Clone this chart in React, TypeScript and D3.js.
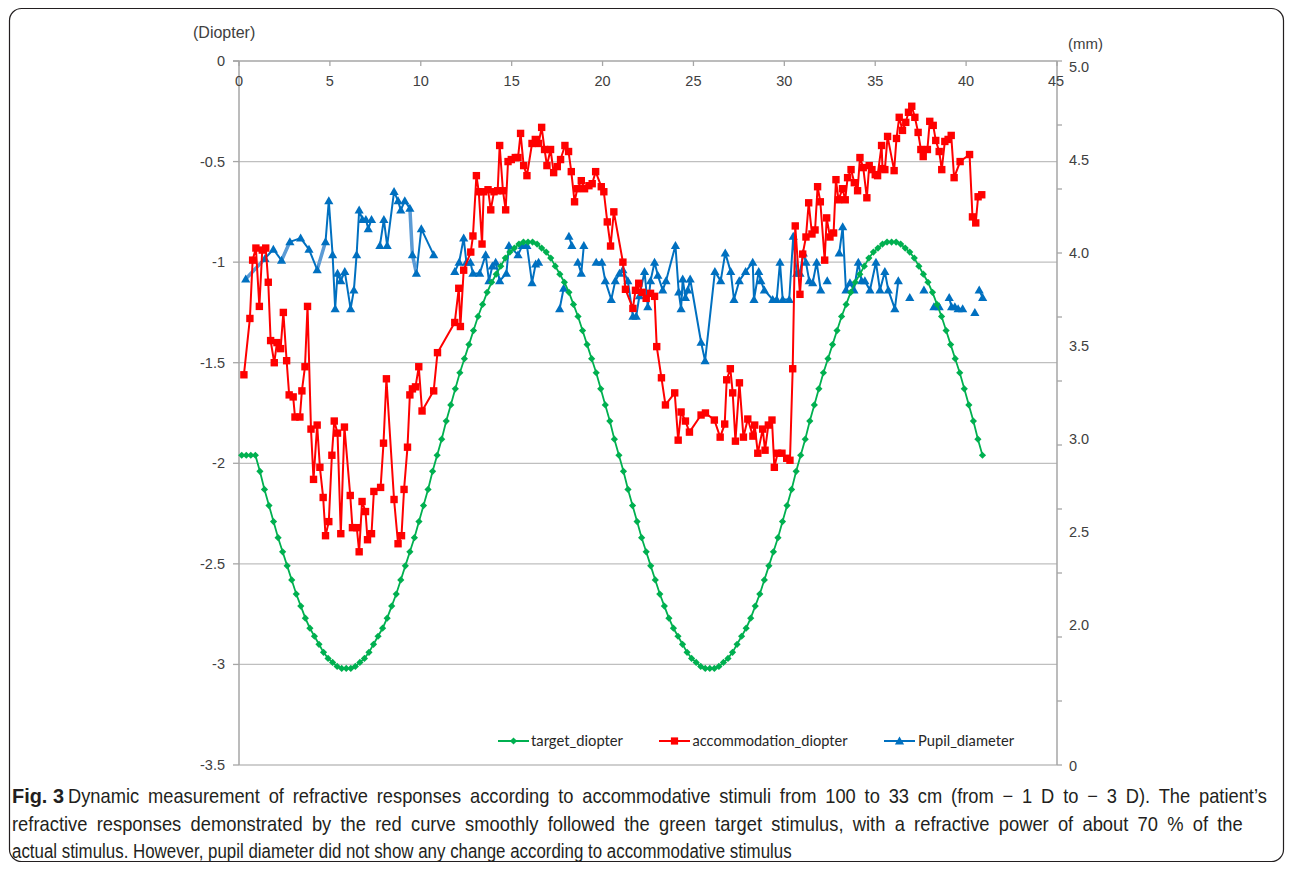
import React, { useMemo } from "react";
import * as d3 from "d3";

// ---------- data ----------
const xTicks = [0, 5, 10, 15, 20, 25, 30, 35, 40, 45];
const leftTicks = [0, -0.5, -1, -1.5, -2, -2.5, -3, -3.5];
const leftTickLabels = ["0", "-0.5", "-1", "-1.5", "-2", "-2.5", "-3", "-3.5"];
const rightLabelValues = [5.0, 4.5, 4.0, 3.5, 3.0, 2.5, 2.0];
const rightTickSteps = [0, 0.5, 1, 1.5, 2, 2.5, 3, 3.5, 4, 4.5, 5, 5.5];

// target_diopter: sampled every 0.25 s starting at 0.15 s
const targetStart = 0.15;
const targetStep = 0.25;
const targetDiopter = [
  -1.96, -1.96, -1.96,
  -1.96, -2.04, -2.13, -2.21, -2.29, -2.37, -2.44, -2.51, -2.58, -2.65, -2.71, -2.77, -2.82, -2.86, -2.90, -2.94, -2.97, -2.99, -3.01, -3.02, -3.02,
  -3.02, -3.01, -2.99, -2.97, -2.94, -2.90, -2.86, -2.82, -2.77, -2.71, -2.65, -2.58, -2.51, -2.44, -2.37, -2.29, -2.21, -2.13, -2.04, -1.96,
  -1.88, -1.79, -1.71, -1.63, -1.55, -1.48, -1.41, -1.34, -1.27, -1.21, -1.15, -1.10, -1.06, -1.02, -0.98, -0.95, -0.93, -0.91, -0.90, -0.90,
  -0.90, -0.91, -0.93, -0.95, -0.98, -1.02, -1.06, -1.10, -1.15, -1.21, -1.27, -1.34, -1.41, -1.48, -1.55, -1.63, -1.71, -1.79, -1.88, -1.96,
  -2.04, -2.13, -2.21, -2.29, -2.37, -2.44, -2.51, -2.58, -2.65, -2.71, -2.77, -2.82, -2.86, -2.90, -2.94, -2.97, -2.99, -3.01, -3.02, -3.02,
  -3.02, -3.01, -2.99, -2.97, -2.94, -2.90, -2.86, -2.82, -2.77, -2.71, -2.65, -2.58, -2.51, -2.44, -2.37, -2.29, -2.21, -2.13, -2.04, -1.96,
  -1.88, -1.79, -1.71, -1.63, -1.55, -1.48, -1.41, -1.34, -1.27, -1.21, -1.15, -1.10, -1.06, -1.02, -0.98, -0.95, -0.93, -0.91, -0.90, -0.90,
  -0.90, -0.91, -0.93, -0.95, -0.98, -1.02, -1.06, -1.10, -1.15, -1.21, -1.27, -1.34, -1.41, -1.48, -1.55, -1.63, -1.71, -1.79, -1.88, -1.96,
];

// accommodation_diopter: [time (s), diopter]
const accommodation: [number, number][] = [
  [0.27, -1.56], [0.6, -1.28], [0.75, -0.99], [0.93, -0.93], [1.12, -1.22], [1.28, -0.94], [1.47, -0.93], [1.61, -1.1],
  [1.74, -1.39], [1.94, -1.5], [2.09, -1.4], [2.29, -1.43], [2.44, -1.25], [2.62, -1.49], [2.76, -1.66], [2.98, -1.67],
  [3.08, -1.77], [3.35, -1.77], [3.46, -1.64], [3.63, -1.52], [3.77, -1.22], [3.96, -1.83], [4.1, -2.08], [4.3, -1.81],
  [4.45, -2.02], [4.63, -2.17], [4.76, -2.36], [4.94, -2.29], [5.11, -1.96], [5.24, -1.79], [5.42, -1.85], [5.6, -2.35],
  [5.8, -1.82], [6.12, -2.16], [6.24, -2.32], [6.48, -2.32], [6.61, -2.44], [6.77, -2.19], [6.96, -2.24], [7.07, -2.38],
  [7.29, -2.35], [7.42, -2.14], [7.79, -2.12], [7.95, -1.9], [8.11, -1.58], [8.53, -2.18], [8.75, -2.4], [8.94, -2.36],
  [9.08, -2.13], [9.27, -1.92], [9.4, -1.66], [9.54, -1.63], [9.71, -1.62], [9.89, -1.52], [10.07, -1.74], [10.71, -1.64],
  [10.92, -1.45], [11.87, -1.3], [12.09, -1.13], [12.18, -1.32], [12.36, -1.04], [12.75, -0.95], [12.87, -0.87], [13.06, -0.57],
  [13.19, -0.65], [13.37, -0.91], [13.46, -0.65], [13.7, -0.64], [13.85, -0.74], [14.03, -0.65], [14.23, -0.645], [14.34, -0.42],
  [14.52, -0.645], [14.67, -0.74], [14.8, -0.5], [14.98, -0.49], [15.2, -0.48], [15.35, -0.48], [15.49, -0.36], [15.66, -0.52],
  [15.84, -0.57], [16.12, -0.41], [16.3, -0.39], [16.48, -0.41], [16.65, -0.33], [16.81, -0.44], [16.94, -0.52], [17.14, -0.44],
  [17.31, -0.555], [17.51, -0.525], [17.69, -0.49], [17.93, -0.42], [18.13, -0.45], [18.28, -0.55], [18.46, -0.7], [18.61, -0.635],
  [18.83, -0.595], [19.01, -0.635], [19.25, -0.62], [19.43, -0.61], [19.62, -0.55], [19.93, -0.625], [20.07, -0.65], [20.26, -0.8],
  [20.44, -0.92], [20.62, -0.75], [21.12, -1.0], [21.26, -1.135], [21.67, -1.23], [21.81, -1.14], [21.99, -1.105], [22.18, -1.15],
  [22.4, -1.18], [22.64, -1.155], [22.86, -1.17], [22.98, -1.42], [23.24, -1.575], [23.46, -1.71], [23.97, -1.65], [24.16, -1.885],
  [24.32, -1.745], [24.56, -1.79], [24.78, -1.845], [25.42, -1.76], [25.66, -1.75], [26.15, -1.785], [26.47, -1.87], [26.72, -1.805],
  [26.83, -1.585], [27.03, -1.53], [27.16, -1.65], [27.31, -1.89], [27.53, -1.6], [27.75, -1.87], [27.99, -1.78], [28.27, -1.865],
  [28.37, -1.81], [28.54, -1.95], [28.81, -1.83], [28.94, -1.935], [29.12, -1.81], [29.32, -1.785], [29.45, -2.02], [29.63, -1.95],
  [29.87, -1.95], [30.13, -1.975], [30.31, -1.985], [30.46, -1.53], [30.6, -0.82], [30.86, -1.16], [31.01, -0.96], [31.19, -0.875],
  [31.34, -0.705], [31.52, -0.86], [31.69, -0.84], [31.83, -0.625], [31.98, -0.7], [32.22, -0.99], [32.33, -0.78], [32.51, -0.875],
  [32.71, -0.855], [32.84, -0.59], [32.98, -0.69], [33.2, -0.635], [33.35, -0.69], [33.48, -0.58], [33.67, -0.54], [33.85, -0.605],
  [34.03, -0.645], [34.16, -0.48], [34.34, -0.53], [34.54, -0.68], [34.67, -0.52], [34.82, -0.54], [35.0, -0.565], [35.13, -0.57],
  [35.35, -0.42], [35.4, -0.535], [35.53, -0.54], [35.68, -0.375], [36.04, -0.545], [36.17, -0.385], [36.32, -0.28], [36.5, -0.345],
  [36.68, -0.305], [36.83, -0.255], [37.01, -0.225], [37.18, -0.28], [37.36, -0.355], [37.51, -0.44], [37.64, -0.475], [37.87, -0.44],
  [38.0, -0.3], [38.19, -0.32], [38.33, -0.395], [38.52, -0.45], [38.66, -0.54], [38.83, -0.4], [39.01, -0.39], [39.18, -0.37],
  [39.34, -0.58], [39.67, -0.5], [40.19, -0.465], [40.35, -0.775], [40.53, -0.805], [40.66, -0.675], [40.86, -0.665],
];

// Pupil_diameter: [time (s), mm]; null = gap in the line
const pupil: ([number, number] | null)[] = [
  [0.37, 3.86], [1.43, 3.97], [1.89, 4.02], [2.34, 3.96], [2.8, 4.06], [3.39, 4.08], [3.85, 4.02], [4.3, 3.91],
  [4.76, 4.06], [4.94, 4.28], [5.15, 3.99], [5.29, 3.7], [5.42, 3.89], [5.6, 3.85], [5.82, 3.9], [6.14, 3.7],
  [6.32, 3.8], [6.47, 3.99], [6.61, 4.23], [6.79, 4.18], [6.98, 4.18], [7.11, 4.13], [7.29, 4.18],
  null,
  [7.75, 4.04], [7.97, 4.18], [8.15, 4.04], [8.53, 4.33], [8.75, 4.28], [8.9, 4.23], [9.12, 4.28], [9.4, 4.24],
  [9.54, 3.99], [9.76, 3.89], [10.03, 4.13], [10.71, 3.99],
  null,
  [11.87, 3.9], [12.11, 3.95], [12.36, 4.08], [12.51, 3.95], [12.73, 3.95], [12.87, 3.89], [13.24, 3.89], [13.57, 3.99],
  [13.75, 3.85], [13.94, 3.93], [14.12, 3.95], [14.34, 3.85], [14.71, 3.89], [14.85, 4.04], [15.35, 3.99], [15.59, 4.04],
  [15.84, 4.04], [16.12, 3.84], [16.32, 3.94], [16.48, 3.95],
  null,
  [17.64, 3.7], [17.86, 3.81],
  null,
  [18.15, 4.09], [18.31, 4.04],
  null,
  [18.64, 3.95], [18.83, 3.89], [18.97, 4.04],
  null,
  [19.65, 3.95], [19.96, 3.95], [20.15, 3.85], [20.48, 3.75], [20.7, 3.85], [20.93, 3.89], [21.12, 3.91], [21.39, 3.85],
  [21.67, 3.66], [21.85, 3.66], [22.03, 3.77], [22.31, 3.9], [22.49, 3.71], [22.64, 3.85], [22.86, 3.95], [23.04, 3.88],
  [23.31, 3.8], [23.49, 3.85], [24.01, 4.04], [24.19, 3.79], [24.32, 3.7], [24.41, 3.86], [24.56, 3.76], [24.69, 3.8],
  [24.82, 3.86], [25.42, 3.52], [25.64, 3.42], [26.18, 3.9], [26.5, 3.85], [26.75, 4.0], [27.05, 3.9], [27.23, 3.75],
  [27.52, 3.85], [27.87, 3.9], [28.26, 3.95], [28.33, 3.75], [28.59, 3.9], [28.71, 3.85], [28.9, 3.8], [29.36, 3.75],
  [29.58, 3.75], [29.76, 3.95], [29.91, 3.75], [30.27, 3.75], [30.49, 4.09], [30.68, 3.89], [30.86, 3.89], [31.04, 4.0],
  [31.19, 3.95], [31.37, 3.85], [31.56, 3.84], [31.78, 3.95], [32.0, 3.8],
  null,
  [32.36, 3.85],
  null,
  [33.02, 4.0], [33.21, 4.14], [33.39, 3.8], [33.61, 3.84], [33.83, 3.8], [34.07, 3.95], [34.25, 3.85], [34.43, 3.85],
  [34.71, 3.8], [35.04, 3.95], [35.26, 3.8], [35.53, 3.9], [35.72, 3.8], [36.08, 3.7], [36.27, 3.85],
  null,
  [36.9, 3.76],
  null,
  [37.68, 3.8],
  null,
  [38.23, 3.71], [38.52, 3.71],
  null,
  [39.07, 3.76], [39.2, 3.71], [39.38, 3.71], [39.56, 3.7], [39.81, 3.7],
  null,
  [40.48, 3.68],
  null,
  [40.72, 3.8], [40.91, 3.76],
];

// segments of the pupil line drawn in a lighter tone in the original
const pupilLight: [number, number][][] = [
  [[0.37, 3.86], [1.43, 3.97]],
  [[2.34, 3.96], [2.8, 4.06]],
  [[4.3, 3.91], [4.76, 4.06]],
  [[9.4, 4.24], [9.54, 3.99], [9.76, 3.89]],
];

const legendItems = [
  { key: "target", label: "target_diopter", color: "#00B050", x: 498, textX: 531, len: 92 },
  { key: "accom", label: "accommodation_diopter", color: "#FF0000", x: 659, textX: 692.5, len: 155 },
  { key: "pupil", label: "Pupil_diameter", color: "#0070C0", x: 884, textX: 918, len: 96 },
];

const captionBold = "Fig. 3";
const captionLine1 =
  "Dynamic measurement of refractive responses according to accommodative stimuli from 100 to 33 cm (from \u2212 1 D to \u2212 3 D). The patient\u2019s";
const captionLine2 =
  "refractive responses demonstrated by the red curve smoothly followed the green target stimulus, with a refractive power of about 70 % of the";
const captionLine3 =
  "actual stimulus. However, pupil diameter did not show any change according to accommodative stimulus";

// ---------- styles ----------
const GREEN = "#00B050";
const RED = "#FF0000";
const BLUE = "#0070C0";
const LIGHTBLUE = "#5B9BD5";
const GRID = "#BFBFBF";
const AXIS = "#A6A6A6";
const TXT = "#404040";
const AXFONT = "'Liberation Sans', Arial, sans-serif";
const CAPFAMILY = "'Liberation Sans'";
const CAPSIZE = 20;

const diamond = "M0,-3.6L3.6,0L0,3.6L-3.6,0Z";
const triangle = "M0,-4.6L4.6,3.4L-4.6,3.4Z";

function useCaptionLayout() {
  return useMemo(() => {
    let measure = (s: string, bold = false) => s.length * CAPSIZE * 0.5;
    try {
      const ctx = document.createElement("canvas").getContext("2d");
      if (ctx) {
        measure = (s: string, bold = false) => {
          ctx.font = `${bold ? "bold " : ""}${CAPSIZE}px ${CAPFAMILY}`;
          return ctx.measureText(s).width;
        };
      }
    } catch (e) {
      /* ignore */
    }
    const k3 = 780 / measure(captionLine3);
    const spaces = (s: string) => (s.match(/ /g) || []).length;
    const fit = (s: string, target: number) => {
      const kFit = target / measure(s);
      const k = (kFit + k3) / 2; // partly condensed glyphs, remainder as word spacing
      const ws = (target / k - measure(s)) / spaces(s);
      return { k, ws };
    };
    return {
      k3,
      l1: fit(captionLine1, 1200),
      l2: fit(captionLine2, 1231),
      boldK: 52 / measure(captionBold, true),
    };
  }, []);
}

export default function App() {
  const x = d3.scaleLinear().domain([0, 45]).range([239, 1057]);
  const yL = d3.scaleLinear().domain([-3.5, 0]).range([765, 61]);
  const yR = d3.scaleLinear().domain([2, 5]).range([625, 67]);
  const yRTicks = d3.scaleLinear().domain([0, 5.5]).range([765, 61]);
  const cap = useCaptionLayout();

  const targetPts: [number, number][] = targetDiopter.map((v, i) => [targetStart + i * targetStep, v]);

  const lineL = d3
    .line<[number, number]>()
    .x((d) => x(d[0]))
    .y((d) => yL(d[1]));
  const lineR = d3
    .line<[number, number] | null>()
    .defined((d) => d !== null)
    .x((d) => x((d as [number, number])[0]))
    .y((d) => yR((d as [number, number])[1]));

  const pupilPts = pupil.filter((d) => d !== null) as [number, number][];

  const x0 = x(0);
  const x1 = x(45);
  const yTop = yL(0);
  const yBot = yL(-3.5);

  return (
    <svg
      width={1292}
      height={869}
      style={{ position: "absolute", left: 0, top: 0, background: "#fff" }}
    >
      <rect x={0} y={0} width={1292} height={869} fill="#fff" />
      {/* figure frame */}
      <rect x={9.5} y={8.5} width={1274} height={853} rx={12} ry={12} fill="none" stroke="#231F20" strokeWidth={1.2} />

      {/* grid */}
      {leftTicks
        .filter((v) => v !== 0)
        .map((v) => (
          <line key={"g" + v} x1={x0} x2={x1} y1={yL(v)} y2={yL(v)} stroke={GRID} strokeWidth={1.3} />
        ))}

      {/* axes */}
      <line x1={x0} x2={x0} y1={yTop} y2={yBot} stroke={AXIS} strokeWidth={1.5} />
      <line x1={x1} x2={x1} y1={yTop} y2={yBot} stroke={AXIS} strokeWidth={1.5} />
      <line x1={x0 - 6} x2={x1} y1={yTop} y2={yTop} stroke={AXIS} strokeWidth={1.5} />
      {leftTicks.map((v) => (
        <line key={"lt" + v} x1={x0 - 6} x2={x0} y1={yL(v)} y2={yL(v)} stroke={AXIS} strokeWidth={1.3} />
      ))}
      {xTicks.map((t) => (
        <line key={"xt" + t} x1={x(t)} x2={x(t)} y1={yTop} y2={yTop + 5} stroke={AXIS} strokeWidth={1.3} />
      ))}
      {rightTickSteps.map((t) => (
        <line key={"rt" + t} x1={x1} x2={x1 + 5} y1={yRTicks(t)} y2={yRTicks(t)} stroke={AXIS} strokeWidth={1.3} />
      ))}

      {/* axis labels */}
      <g fontFamily={AXFONT} fill={TXT} fontSize={14.5}>
        {leftTicks.map((v, i) => (
          <text key={"ll" + v} x={225} y={yL(v) + 5} textAnchor="end">
            {leftTickLabels[i]}
          </text>
        ))}
        {xTicks.map((t) => (
          <text key={"xl" + t} x={t === 45 ? x(t) - 1 : x(t)} y={yTop + 25} textAnchor="middle">
            {t}
          </text>
        ))}
        {rightLabelValues.map((v) => (
          <text key={"rl" + v} x={1069} y={yR(v) + 5}>
            {v.toFixed(1)}
          </text>
        ))}
        <text x={1069} y={yBot + 6}>0</text>
        <text x={193} y={38} fontSize={16}>(Diopter)</text>
        <text x={1068} y={49} fontSize={15}>(mm)</text>
      </g>

      {/* pupil diameter */}
      <path d={lineR(pupil) || ""} fill="none" stroke={BLUE} strokeWidth={2} strokeLinejoin="round" />
      {pupilLight.map((seg, i) => (
        <path key={"pl" + i} d={lineR(seg) || ""} fill="none" stroke={LIGHTBLUE} strokeWidth={3.5} strokeLinecap="round" />
      ))}
      {pupilPts.map((d, i) => (
        <path key={"pp" + i} d={triangle} transform={`translate(${x(d[0])},${yR(d[1])})`} fill={BLUE} />
      ))}

      {/* accommodation */}
      <path d={lineL(accommodation) || ""} fill="none" stroke={RED} strokeWidth={2} strokeLinejoin="round" />
      {accommodation.map((d, i) => (
        <rect key={"ac" + i} x={x(d[0]) - 3.7} y={yL(d[1]) - 3.7} width={7.4} height={7.4} fill={RED} />
      ))}

      {/* target */}
      <path d={lineL(targetPts) || ""} fill="none" stroke={GREEN} strokeWidth={1.8} />
      {targetPts.map((d, i) => (
        <path key={"tg" + i} d={diamond} transform={`translate(${x(d[0])},${yL(d[1])})`} fill={GREEN} />
      ))}

      {/* legend */}
      {legendItems.map((it) => (
        <g key={it.key}>
          <line x1={it.x} x2={it.x + 31} y1={741} y2={741} stroke={it.color} strokeWidth={2} />
          {it.key === "target" && <path d={diamond} transform={`translate(${it.x + 15.5},741)`} fill={it.color} />}
          {it.key === "accom" && <rect x={it.x + 15.5 - 3.6} y={741 - 3.6} width={7.2} height={7.2} fill={it.color} />}
          {it.key === "pupil" && <path d={triangle} transform={`translate(${it.x + 15.5},741)`} fill={it.color} />}
          <text
            x={it.textX}
            y={746}
            fontFamily="Lato, 'Open Sans', sans-serif"
            fontSize={15}
            fill="#262626"
            textLength={it.len}
            lengthAdjust="spacingAndGlyphs"
          >
            {it.label}
          </text>
        </g>
      ))}

      {/* caption */}
      <g fontFamily={CAPFAMILY} fontSize={CAPSIZE} fill="#231F20">
        <g transform={`translate(12,803) scale(${cap.boldK},1)`}>
          <text x={0} y={0} fontWeight="bold">{captionBold}</text>
        </g>
        <g transform={`translate(68,803) scale(${cap.l1.k},1)`}>
          <text x={0} y={0} style={{ wordSpacing: `${cap.l1.ws}px` }}>{captionLine1}</text>
        </g>
        <g transform={`translate(12,831) scale(${cap.l2.k},1)`}>
          <text x={0} y={0} style={{ wordSpacing: `${cap.l2.ws}px` }}>{captionLine2}</text>
        </g>
        <g transform={`translate(12,858) scale(${cap.k3},1)`}>
          <text x={0} y={0}>{captionLine3}</text>
        </g>
      </g>
    </svg>
  );
}
